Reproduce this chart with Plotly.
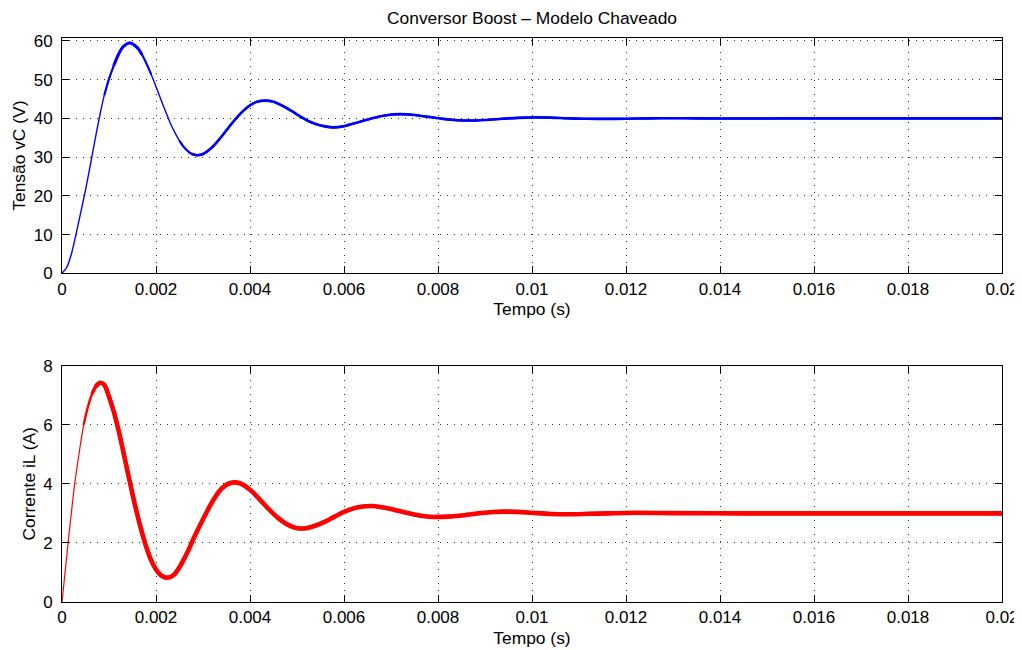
import numpy as np
import plotly.graph_objects as go

# ---------------- data ----------------
T_VC_MS = [0, 0.1, 0.2, 0.3, 0.4, 0.5, 0.6, 0.7, 0.8, 0.9, 1.0, 1.1, 1.2, 1.3, 1.44,
           1.6, 1.7, 1.8, 1.9, 2.0, 2.1, 2.2, 2.3, 2.4, 2.5, 2.6, 2.75, 2.88, 3.0, 3.2,
           3.4, 3.6, 3.8, 4.0, 4.15, 4.33, 4.5, 4.7, 4.9, 5.1, 5.3, 5.5, 5.76, 6.0, 6.3,
           6.6, 6.9, 7.2, 7.5, 7.8, 8.1, 8.4, 8.65, 9.0, 9.36, 9.7, 10.08, 10.4, 10.8,
           11.1, 11.52, 12.0, 12.5, 12.96, 13.5, 14.4, 15.5, 17.0, 20.0]
VC = [0, 1.5, 5.0, 10.2, 15.8, 21.5, 27.8, 34.3, 40.5, 46.0, 50.2, 53.6, 56.5, 58.5, 59.5,
      58.3, 56.5, 54.1, 51.3, 48.2, 45.0, 41.9, 38.9, 36.4, 34.2, 32.5, 30.9, 30.5, 30.8, 32.6,
      35.4, 38.5, 41.3, 43.4, 44.3, 44.6, 44.3, 43.2, 41.8, 40.3, 39.0, 38.2, 37.7, 38.0, 39.0,
      40.06, 40.84, 41.1, 40.88, 40.39, 39.88, 39.54, 39.46, 39.6, 39.9, 40.15, 40.26, 40.2, 40.0,
      39.93, 39.87, 39.93, 40.02, 40.06, 40.02, 39.97, 40.0, 40.0, 40.0]

T_IL_MS = [0, 0.13, 0.27, 0.37, 0.46, 0.55, 0.64, 0.72, 0.81, 0.9, 1.0, 1.1, 1.2, 1.3,
           1.4, 1.5, 1.6, 1.7, 1.8, 1.9, 2.0, 2.1, 2.2, 2.3, 2.4, 2.5, 2.6, 2.7, 2.8,
           3.0, 3.2, 3.4, 3.6, 3.8, 4.0, 4.2, 4.4, 4.6, 4.8, 5.0, 5.2, 5.4, 5.6, 5.8,
           6.0, 6.2, 6.4, 6.6, 6.8, 7.0, 7.3, 7.6, 7.9, 8.2, 8.5, 8.8, 9.1, 9.4, 9.7,
           10.0, 10.4, 10.8, 11.2, 11.6, 12.2, 13.0, 14.5, 17.0, 20.0]
IL = [0, 2.0, 4.0, 5.1, 6.0, 6.6, 7.05, 7.3, 7.42, 7.35, 6.95, 6.45, 5.83, 5.12,
      4.38, 3.65, 2.97, 2.36, 1.83, 1.40, 1.10, 0.91, 0.83, 0.84, 0.95, 1.18, 1.47, 1.79, 2.15,
      2.8, 3.4, 3.85, 4.04, 4.01, 3.8, 3.48, 3.14, 2.84, 2.62, 2.5, 2.5, 2.59, 2.72, 2.89,
      3.05, 3.17, 3.235, 3.25, 3.21, 3.15, 3.03, 2.93, 2.88, 2.89, 2.93, 2.99, 3.04, 3.06, 3.05,
      3.02, 2.98, 2.97, 2.985, 3.0, 3.02, 3.01, 3.0, 3.0, 3.0]

X_TICKS = [0, 0.002, 0.004, 0.006, 0.008, 0.01, 0.012, 0.014, 0.016, 0.018, 0.02]
X_TICK_LABELS = ["0", "0.002", "0.004", "0.006", "0.008", "0.01", "0.012", "0.014",
                 "0.016", "0.018", "0.02"]
VC_TICKS = [0, 10, 20, 30, 40, 50, 60]
IL_TICKS = [0, 2, 4, 6, 8]

TITLE = "Conversor Boost \u2013 Modelo Chaveado"
X_LABEL = "Tempo (s)"
VC_LABEL = "Tens\u00e3o vC (V)"
IL_LABEL = "Corrente iL (A)"

# ---------------- styles ----------------
# the page body has an 8px default margin, so the figure is 8px smaller than the window
FIG_W, FIG_H = 1014, 642
FONT = "Liberation Sans, Arial, Helvetica, sans-serif"
FS_TXT = 17.4
FS_TICK = 17
VC_BASE_W = 1.4
IL_BASE_W = 1.2
# (start ms, end ms, width) overlays: switching ripple makes the trace look thicker
VC_THICK = [(0.9, 1.9, 2.1), (1.05, 1.75, 3.0), (2.5, 20.0, 2.1), (2.75, 20.0, 2.6)]
IL_THICK = [(0.46, 20.0, 2.4), (0.6, 20.0, 3.5), (0.72, 20.0, 4.6)]

t_vc = np.array(T_VC_MS) / 1000.0
v_vc = np.array(VC)
t_il = np.array(T_IL_MS) / 1000.0
v_il = np.array(IL)

fig = go.Figure()


def add_curve(t, y, base_w, thick, color, xa, ya):
    fig.add_trace(go.Scatter(x=t, y=y, mode="lines",
                             line=dict(color=color, width=base_w, shape="spline", smoothing=0.8),
                             xaxis=xa, yaxis=ya, showlegend=False, hoverinfo="skip"))
    for a, b, w in thick:
        m = (t >= a / 1000.0 - 1e-12) & (t <= b / 1000.0 + 1e-12)
        fig.add_trace(go.Scatter(x=t[m], y=y[m], mode="lines",
                                 line=dict(color=color, width=w, shape="spline", smoothing=0.8),
                                 xaxis=xa, yaxis=ya, showlegend=False, hoverinfo="skip"))


add_curve(t_vc, v_vc, VC_BASE_W, VC_THICK, "#0000ff", "x", "y")
add_curve(t_il, v_il, IL_BASE_W, IL_THICK, "#ff0000", "x2", "y2")

grid = dict(showgrid=True, gridcolor="#333333", gridwidth=1, griddash="1px,6px")
common = dict(showline=True, linecolor="black", linewidth=1, mirror="ticks",
              ticks="inside", ticklen=7, tickwidth=1, tickcolor="black",
              zeroline=False, automargin=False,
              tickfont=dict(family=FONT, size=FS_TICK, color="black"),
              **grid)

xcommon = dict(common, range=[0, 0.02], tickmode="array", tickvals=X_TICKS,
               ticktext=X_TICK_LABELS, ticklabelstandoff=0,
               title=dict(text=X_LABEL, font=dict(family=FONT, size=FS_TXT, color="black"),
                          standoff=5))

fig.update_layout(
    width=FIG_W, height=FIG_H,
    paper_bgcolor="white", plot_bgcolor="white",
    margin=dict(l=54, r=20, t=30, b=48),
    title=dict(text=TITLE, x=0.5, xref="paper", xanchor="center",
               y=1 - 10 / FIG_H, yref="container", yanchor="middle", automargin=False,
               font=dict(family=FONT, size=FS_TXT, color="black")),
    xaxis=dict(xcommon, domain=[0, 1], anchor="y"),
    yaxis=dict(common, domain=[0.5828, 1], anchor="x", range=[0, 60.77],
               tickmode="array", tickvals=VC_TICKS, ticklabelstandoff=5,
               title=dict(text=VC_LABEL, font=dict(family=FONT, size=FS_TXT, color="black"),
                          standoff=3)),
    xaxis2=dict(xcommon, domain=[0, 1], anchor="y2"),
    yaxis2=dict(common, domain=[0, 0.419], anchor="x2", range=[0, 8],
                tickmode="array", tickvals=IL_TICKS, ticklabelstandoff=5,
                title=dict(text=IL_LABEL, font=dict(family=FONT, size=FS_TXT, color="black"),
                           standoff=3)),
)

fig.write_html("out.html")
